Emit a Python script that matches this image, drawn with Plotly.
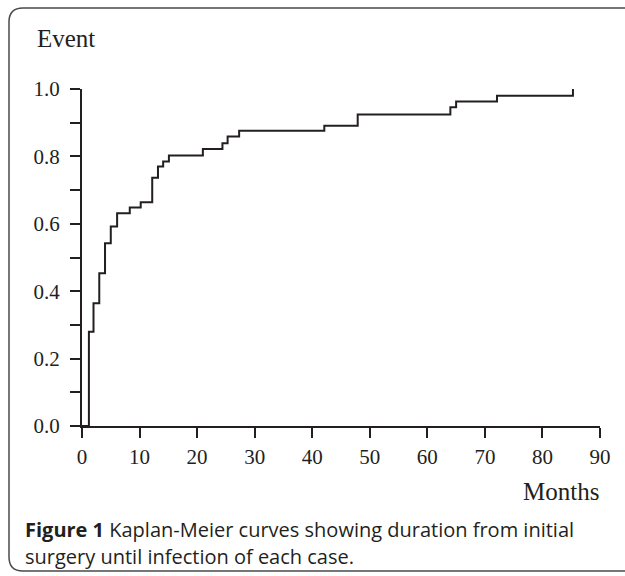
import plotly.graph_objects as go

months = [0, 1.2, 2.0, 3.0, 4.0, 5.0, 6.1, 8.3, 10.2, 12.2, 13.2, 14.1, 15.1, 21.0, 24.4, 25.3, 27.3, 42.1, 47.9, 64.0, 65.0, 72.1, 85.3]
event = [0, 0.28, 0.364, 0.453, 0.542, 0.592, 0.631, 0.648, 0.664, 0.737, 0.770, 0.785, 0.803, 0.822, 0.839, 0.859, 0.876, 0.891, 0.924, 0.946, 0.963, 0.980, 1.0]
x_ticks = [0, 10, 20, 30, 40, 50, 60, 70, 80, 90]
y_ticks = [0.0, 0.2, 0.4, 0.6, 0.8, 1.0]

W, H = 625, 576
ML, MR, MT, MB = 82, 25, 89, 150
PW, PH = W - ML - MR, H - MT - MB
INK = "#231f20"

fig = go.Figure()
fig.add_trace(go.Scatter(x=months, y=event, mode="lines", line=dict(shape="hv", color=INK, width=2),
                         cliponaxis=False, showlegend=False, hoverinfo="skip"))

def px2paper(px, py):
    return (px - ML) / PW, (H - MB - py) / PH

# rounded frame
x0, y0, x1, y1, r = 9, 8, 640, 571, 14
def P(x, y):
    a, b = px2paper(x, y)
    return f"{a:.5f},{b:.5f}"
path = (f"M {P(x1, y0)} L {P(x0 + r, y0)} Q {P(x0, y0)} {P(x0, y0 + r)} "
        f"L {P(x0, y1 - r)} Q {P(x0, y1)} {P(x0 + r, y1)} L {P(x1, y1)}")
fig.add_shape(type="path", path=path, xref="paper", yref="paper",
              line=dict(color="#4a4a4a", width=1.5))

serif = "Liberation Serif"
ex, ey = px2paper(35, 38)
fig.add_annotation(text="Event", x=ex, y=ey, xref="paper", yref="paper", xanchor="left", yanchor="middle",
                   showarrow=False, font=dict(family=serif, size=25, color=INK))
mx, my = px2paper(601, 491)
fig.add_annotation(text="Months", x=mx, y=my, xref="paper", yref="paper", xanchor="right", yanchor="middle",
                   showarrow=False, font=dict(family=serif, size=25, color=INK))
cx, cy = px2paper(23, 529)
fig.add_annotation(text="<b>Figure 1</b> Kaplan-Meier curves showing duration from initial", x=cx, y=cy,
                   xref="paper", yref="paper", xanchor="left", yanchor="middle", showarrow=False,
                   font=dict(family="Open Sans", size=20, color=INK))
cx2, cy2 = px2paper(23, 556)
fig.add_annotation(text="surgery until infection of each case.", x=cx2, y=cy2,
                   xref="paper", yref="paper", xanchor="left", yanchor="middle", showarrow=False,
                   font=dict(family="Open Sans", size=20, color=INK))

fig.update_layout(
    width=W, height=H, margin=dict(l=ML, r=MR, t=MT, b=MB),
    paper_bgcolor="white", plot_bgcolor="white",
    font=dict(family=serif, size=21, color=INK),
    xaxis=dict(range=[0, 90], tickvals=x_ticks, ticktext=[str(v) for v in x_ticks],
               showline=True, linecolor=INK, linewidth=2, ticks="outside", ticklen=10, tickwidth=2,
               tickcolor=INK, showgrid=False, zeroline=False, fixedrange=True, ticklabelstandoff=1),
    yaxis=dict(range=[0, 1], tickvals=y_ticks, ticktext=[f"{v:.1f}" for v in y_ticks],
               showline=True, linecolor=INK, linewidth=2, ticks="outside", ticklen=10, tickwidth=2,
               tickcolor=INK, showgrid=False, zeroline=False, fixedrange=True, ticklabelstandoff=6,
               minor=dict(tickvals=[0.1, 0.3, 0.5, 0.7, 0.9], ticks="outside", ticklen=10,
                          tickwidth=2, tickcolor=INK, showgrid=False)),
)
fig.write_html("out.html", config={"displayModeBar": False},
               post_script="document.body.style.margin='0';document.body.style.overflow='hidden';")
